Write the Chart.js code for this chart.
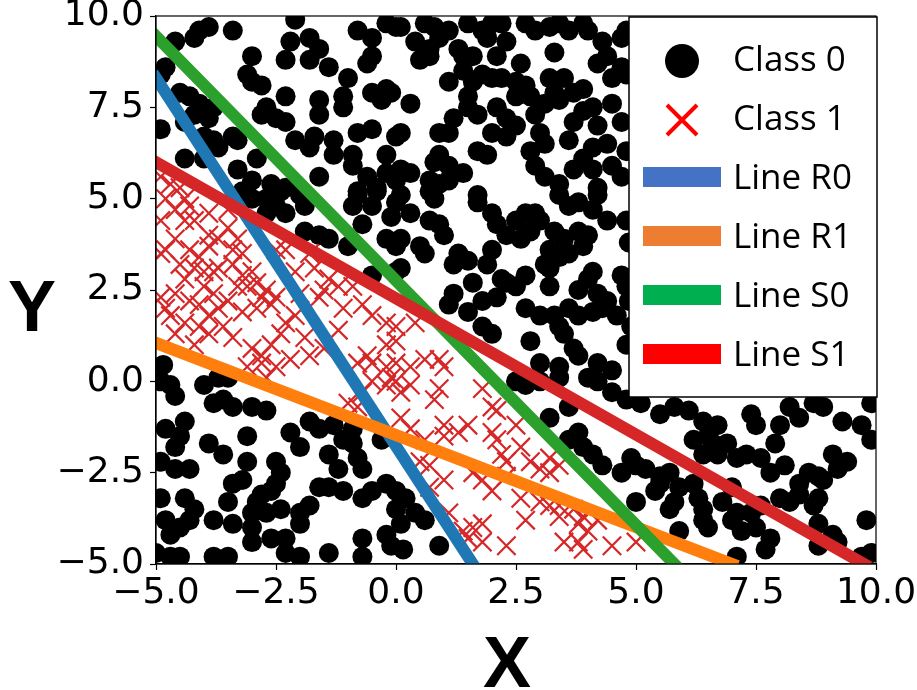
<!DOCTYPE html>
<html>
<head>
<meta charset="utf-8">
<title>Class regions</title>
<script src="https://cdn.jsdelivr.net/npm/chart.js@4"></script>
<style>
  html, body { margin: 0; padding: 0; background: #fff; }
  #wrap { width: 917px; height: 690px; }
</style>
</head>
<body>
<div id="wrap"><canvas id="chart"></canvas></div>
<script>
// values, [x, y]
const class0 = [
  [-4.1,9.6],[-3.9,9.7],[-4.2,9.4],[-3.4,9.6],[-4.6,9.3],[-2.1,9.9],[-1.8,9.4],[-2.2,9.3],[-1.6,9.1],[-1.8,8.8],
  [-2.3,8.8],[-1.4,8.6],[-0.8,9.6],[-0.5,9.4],[-0.2,9.8],[0.0,9.7],[-0.5,8.9],[-0.6,8.7],[-3.0,8.9],[-3.1,8.4],
  [-3.0,8.2],[-2.8,8.1],[-1.0,8.3],[-4.8,8.6],[-4.9,8.4],[-2.3,7.8],[-1.6,7.7],[-1.6,7.3],[-1.1,7.8],[-1.1,7.5],
  [-0.5,7.9],[-0.2,8.0],[-0.3,7.7],[-2.7,7.5],[-2.8,7.3],[-2.5,7.2],[-2.3,7.1],[-4.5,7.9],[-4.3,7.8],[-4.1,7.6],
  [-4.2,7.3],[-3.9,7.2],[-3.8,7.5],[-4.9,6.9],[-3.8,6.6],[-3.7,6.4],[-3.4,6.7],[-3.3,6.6],[-4.4,6.1],[-4.0,6.1],
  [-2.1,6.6],[-1.8,6.4],[-1.7,6.7],[-1.3,6.6],[-1.3,6.2],[-0.8,6.8],[-0.5,6.9],[-0.9,6.2],[-0.9,5.9],[-0.2,6.2],
  [0.0,6.7],[-2.9,6.1],[-3.3,5.8],[-3.0,5.5],[-2.6,5.4],[-2.3,5.3],[-1.6,5.6],[-0.6,5.6],[-0.2,5.7],[-0.8,5.2],
  [-0.4,5.3],[0.0,5.5],
  [0.1,9.7],[0.4,9.3],[0.5,8.8],[0.7,8.9],[0.8,9.7],[0.9,9.4],[0.7,9.1],[1.5,9.8],[1.8,9.6],[2.0,9.8],
  [2.2,9.8],[1.9,9.4],[2.3,9.3],[2.1,8.9],[2.7,9.8],[3.4,9.8],[3.6,9.6],[3.9,9.8],[4.0,9.6],[3.3,9.0],
  [4.3,9.3],[4.4,8.9],[4.7,9.4],[4.8,9.6],[1.4,8.9],[1.6,8.9],[1.4,8.5],[1.8,8.4],[2.0,8.3],[2.2,8.3],
  [1.6,8.2],[2.5,8.2],[2.7,8.1],[2.5,7.8],[2.8,7.8],[3.2,8.3],[3.5,8.3],[3.3,7.9],[3.7,7.9],[3.9,8.0],
  [3.1,7.6],[3.4,7.7],[4.5,8.3],[4.7,8.6],[4.8,8.4],[-0.1,7.9],[0.3,7.6],[1.5,7.8],[1.5,7.5],[1.7,7.3],
  [2.1,7.5],[2.3,7.2],[2.5,7.0],[2.3,6.7],[4.1,7.5],[3.7,7.1],[4.2,7.0],[4.7,7.1],[1.2,7.2],[0.1,6.8],
  [0.9,6.8],[1.1,6.8],[3.0,6.8],[3.1,6.5],[2.8,6.3],[2.9,5.9],[1.7,6.3],[1.9,6.2],[0.9,6.2],[0.8,6.0],
  [1.1,5.9],[0.1,5.8],[0.3,5.7],[1.4,5.7],[0.7,5.5],[0.9,5.4],[1.1,5.5],[4.1,6.4],[3.9,6.1],[3.7,5.8],
  [4.1,5.8],[4.5,5.9],[4.8,6.3],[4.7,5.6],[3.1,5.6],[3.4,5.4],[4.2,5.3],[0.1,5.1],[1.7,5.1],[4.85,3.8],
  [4.85,2.2],
  [-3.2,5.2],[-3.0,5.0],[-2.7,5.0],[-2.4,5.2],[-2.3,4.6],[-2.7,4.6],[-1.9,4.8],[-1.9,4.1],[-1.6,4.0],[-1.4,3.9],
  [-1.0,3.7],[-0.8,5.1],[-0.4,5.2],[-0.9,4.8],[-0.5,4.8],[-0.1,4.5],[-0.7,4.3],[-0.2,3.9],[0.0,3.7],[0.0,3.0],
  [-0.5,2.9],
  [0.0,4.9],[0.7,5.2],[0.8,5.0],[1.7,4.9],[0.3,4.6],[0.7,4.4],[0.9,4.3],[1.0,4.0],[0.1,3.9],[0.5,3.7],
  [0.6,3.5],[0.1,3.1],[2.0,4.6],[2.1,4.3],[2.3,4.0],[2.5,4.4],[2.7,4.6],[2.9,4.6],[3.0,4.4],[2.6,3.9],
  [2.8,4.1],[3.4,5.1],[3.6,4.8],[3.8,4.9],[4.1,4.7],[4.2,5.1],[4.4,4.4],[4.8,4.4],[3.3,4.1],[3.5,3.9],
  [3.8,4.1],[4.0,4.0],[3.2,3.6],[3.6,3.5],[3.9,3.7],[3.4,3.4],[1.3,3.5],[1.2,3.2],[1.5,3.3],[1.9,3.2],
  [2.0,3.6],[2.2,2.8],[2.3,2.7],[2.7,2.9],[2.5,2.6],[3.1,3.2],[3.2,3.1],[3.2,2.6],[3.8,2.5],[4.0,2.8],
  [4.1,3.0],[4.2,2.4],[4.4,2.2],[4.7,2.9],[4.8,2.6],[1.6,2.7],[1.2,2.4],[1.1,2.1],[1.5,1.9],[1.8,2.2],
  [2.1,2.3],[2.7,2.0],[3.0,1.8],[3.3,1.8],[3.6,2.0],[3.8,1.8],[4.1,1.9],[4.3,2.0],[4.6,1.8],[1.8,1.5],
  [2.0,1.3],[2.8,1.1],[3.4,1.5],[3.5,1.3],[3.7,0.9],[3.8,0.7],[4.2,0.5],[4.5,0.3],[4.8,1.0],[4.9,1.5],
  [3.0,0.5],[3.4,0.4],
  [-4.85,0.45],[-4.9,0.0],[-4.7,-0.1],[-4.0,-0.1],[-3.7,0.1],[-3.5,0.1],[-4.6,-0.4],[-3.8,-0.6],[-3.6,-0.5],[-3.4,-0.7],
  [-3.0,-0.7],[-2.7,-0.8],[-4.8,-1.3],[-4.4,-1.1],[-4.5,-1.5],[-4.6,-1.8],[-3.9,-1.7],[-3.6,-2.0],[-3.1,-1.5],[-2.2,-1.4],
  [-1.8,-1.1],[-1.6,-1.3],[-2.0,-1.8],[-1.3,-1.2],[-0.9,-1.3],[-1.1,-1.6],[-0.9,-1.7],[-0.3,-1.6],[-4.9,-2.2],[-4.6,-2.4],
  [-4.3,-2.4],[-3.1,-2.2],[-2.5,-2.2],[-2.4,-2.5],[-1.4,-2.0],[-1.2,-2.4],[-0.8,-2.1],[-0.7,-2.4],[-3.4,-2.8],[-3.2,-2.7],
  [-2.8,-3.1],[-2.9,-3.3],[-2.5,-2.8],[-2.6,-3.0],[-4.9,-3.2],[-4.4,-3.2],[-4.2,-3.5],[-3.5,-3.3],[-3.0,-3.6],[-2.7,-3.6],
  [-2.4,-3.5],[-2.0,-3.6],[-2.0,-3.9],[-1.8,-3.4],[-1.6,-2.9],[-1.4,-2.9],[-1.1,-3.0],[-0.7,-3.2],[-0.5,-3.0],[-0.2,-2.8],
  [0.0,-3.0],[-4.8,-3.8],[-4.5,-4.0],[-4.3,-3.8],[-3.8,-3.8],[-3.4,-3.9],[-4.7,-4.2],[-3.0,-4.0],[-3.0,-4.4],[-2.6,-4.3],
  [-2.3,-4.3],[-2.3,-4.7],[-2.0,-4.8],[-1.4,-4.7],[-0.7,-4.3],[-0.7,-4.8],[-5.0,-4.7],[-4.7,-4.8],[-4.5,-4.8],[-3.8,-4.8],
  [-3.5,-4.8],[-0.2,-4.2],[-0.1,-4.5],[0.0,-3.5],[0.1,-3.9],[0.2,-3.2],[0.4,-3.6],[0.6,-3.8],[0.15,-4.6],[0.9,-4.5],
  [2.5,0.0],[2.7,-0.1],[3.0,0.0],[3.4,0.1],[3.2,-1.0],[3.6,-0.7],[3.8,-1.4],[3.9,-1.8],[4.1,-2.0],[3.6,-1.6],
  [4.3,-2.3],[4.7,-2.5],[4.9,-2.1],[5.0,-2.3],[5.0,-3.3],[4.5,-0.3],[4.8,-0.5],[4.2,0.0],[4.0,0.1],
  [5.1,-0.6],[5.5,-0.9],[5.8,-0.7],[6.1,-0.8],[6.4,-1.1],[6.7,-1.2],[6.2,-1.6],[6.5,-1.5],[6.6,-1.7],[6.9,-1.7],
  [6.4,-2.0],[6.7,-2.0],[7.4,-0.9],[7.5,-1.2],[8.0,-1.2],[7.9,-1.7],[8.2,-0.7],[8.4,-1.0],[8.7,-0.6],[8.9,-0.7],
  [9.3,-1.1],[9.7,-1.2],[9.9,-1.6],[9.9,-0.6],[7.1,-2.1],[7.3,-2.0],[7.6,-2.1],[8.1,-2.3],[7.8,-2.5],[8.6,-2.5],
  [8.8,-2.6],[8.9,-2.7],[9.2,-2.4],[9.1,-2.0],[9.4,-2.2],[8.4,-2.8],[5.2,-2.4],[5.5,-2.6],[5.7,-2.5],[5.4,-3.0],
  [5.5,-2.8],[5.9,-2.9],[6.2,-2.8],[5.8,-3.3],[5.7,-3.5],[6.3,-3.2],[6.4,-3.5],[6.8,-3.3],[7.0,-2.9],[7.1,-3.6],
  [7.4,-3.6],[7.6,-3.4],[6.4,-3.8],[6.5,-4.0],[7.0,-3.8],[7.2,-4.1],[7.5,-4.0],[7.8,-4.3],[7.7,-4.6],[8.0,-3.2],
  [8.2,-3.3],[8.4,-3.1],[8.7,-3.4],[8.8,-3.2],[8.8,-3.9],[9.1,-4.2],[8.8,-4.5],[9.2,-4.4],[9.8,-3.8],[9.9,-4.7],
  [9.7,-4.8],[5.9,-4.1],[7.1,-4.8],
  [0.6,9.8],[1.1,9.6],[2.9,9.6],[3.2,9.7],[1.3,9.1],[2.6,8.7],[4.2,8.7],[1.1,8.2],[3.9,7.4],[4.5,7.6],
  [2.9,7.3],[2.0,6.8],[4.4,6.5],[3.6,6.6],[-4.4,7.1],[-4.0,6.7],[-2.5,4.8],[-2.0,5.1]
];

const class1 = [
  [-4.8,5.0],[-4.4,5.0],[-4.3,4.8],[-3.5,4.7],[-4.9,4.4],[-4.4,4.4],[-3.9,4.0],[-3.7,3.9],[-3.5,4.2],[-3.3,3.9],
  [-4.9,3.5],[-4.8,3.6],[-4.3,3.6],[-4.1,3.4],[-3.9,3.7],[-3.4,3.6],[-3.2,3.5],[-2.5,3.6],[-2.3,3.6],[-1.8,3.5],
  [-4.5,3.2],[-4.2,3.1],[-3.8,3.0],[-3.7,3.1],[-3.4,3.2],[-3.2,2.9],[-3.0,3.0],[-2.1,3.0],[-1.7,3.1],[-1.4,2.8],
  [-4.9,2.3],[-4.6,2.4],[-4.3,2.2],[-4.0,2.6],[-3.8,2.4],[-3.3,2.6],[-3.1,2.6],[-2.9,2.7],[-2.8,2.3],[-2.7,2.5],
  [-2.5,2.3],[-1.6,2.3],[-1.5,2.5],[-1.2,2.6],[-0.9,2.6],[-0.7,2.1],[-1.1,2.0],[-4.8,2.0],[-4.7,1.8],[-4.1,2.1],
  [-3.9,1.8],[-3.7,2.0],[-3.6,1.5],[-4.1,1.5],[-2.9,2.0],[-2.6,2.1],[-2.3,1.6],[-2.1,1.8],[-2.4,1.3],[-0.5,1.8],
  [-0.2,1.6],[0.0,1.5],[-4.6,1.3],[-4.2,1.0],[-3.9,1.3],[-3.0,0.9],[-2.8,0.7],[-2.6,1.0],[-1.8,0.7],[-1.5,0.9],
  [-0.6,0.7],[-0.2,1.0],[0.0,1.1],[-3.1,0.4],[-2.8,0.5],[-2.5,0.4],[-0.8,0.5],[-0.5,0.5],[-0.2,0.4],[0.0,0.5],
  [-4.9,5.6],[-4.7,5.4],[-4.5,5.3],[-4.6,4.7],[-4.2,4.4],[-3.9,4.6],[-4.6,3.9],[-4.0,3.0],[-3.5,2.2],[-4.4,2.8],
  [-3.2,1.9],[-3.4,1.2],[-4.4,1.6],[-2.0,2.4],[-1.9,1.2],[-1.2,1.4],[-2.2,0.6],
  [0.4,1.6],[0.3,0.4],[0.6,0.6],[0.9,0.6],[1.0,0.4],
  [-1.0,-0.6],[-0.8,-0.7],[-0.5,0.0],[-0.2,-0.1],[-0.7,-0.3],[-0.1,0.1],[-2.7,0.1],
  [0.0,0.0],[0.1,-0.3],[0.3,-0.1],[0.9,-0.2],[0.8,-0.5],[1.8,-0.2],[2.0,-0.7],[2.1,-0.8],[1.0,-1.2],[1.0,-1.5],
  [1.3,-1.4],[1.5,-1.2],[0.1,-1.0],[0.3,-1.3],[0.6,-1.6],[2.0,-1.4],[2.1,-1.6],[2.5,-1.2],[2.6,-1.8],[2.2,-2.0],
  [2.3,-2.2],[2.8,-2.2],[3.2,-2.1],[3.4,-2.3],[0.5,-2.2],[0.7,-2.3],[1.0,-2.7],[1.6,-2.5],[1.8,-2.7],[2.0,-3.0],
  [2.3,-2.6],[2.6,-3.2],[3.0,-2.4],[3.2,-2.5],[3.0,-3.3],[3.2,-3.4],[3.4,-3.4],[3.4,-3.7],[3.7,-3.5],[3.8,-3.9],
  [4.0,-4.1],[4.2,-3.8],[3.9,-3.7],[1.4,-4.1],[1.6,-4.0],[1.5,-4.3],[1.8,-3.9],[1.8,-4.4],[2.3,-4.5],[2.7,-3.8],
  [3.5,-4.4],[3.8,-4.4],[3.9,-4.6],[4.5,-4.5],[5.0,-4.4],[0.7,-2.9],[1.1,-3.6]
];

// boundary lines, end points where they meet the frame
const lineR0 = [[-5, 8.3], [1.6, -5]];
const lineR1 = [[-5, 1.05], [7.0, -5]];
const lineS0 = [[-5, 9.45], [5.8, -5]];
const lineS1 = [[-5, 6.0], [9.75, -5]];

const tickValues = [-5, -2.5, 0, 2.5, 5, 7.5, 10];

const toPts = (arr) => arr.map(([x, y]) => ({ x: x, y: y }));

const fmtTick = (v) => (v < 0 ? "\u2212" : "") + Math.abs(v).toFixed(1);

const legendRows = [
  { label: "Class 0", kind: "dot", color: "#000000" },
  { label: "Class 1", kind: "cross", color: "#ff0000" },
  { label: "Line R0", kind: "bar", color: "#4472c4" },
  { label: "Line R1", kind: "bar", color: "#ed7d31" },
  { label: "Line S0", kind: "bar", color: "#00b050" },
  { label: "Line S1", kind: "bar", color: "#ff0000" },
];

const framePlugin = {
  id: "frameAndLegend",
  afterDraw(chart) {
    const { ctx, chartArea: a } = chart;
    ctx.save();

    // spines
    ctx.strokeStyle = "#000";
    ctx.lineWidth = 1.2;
    ctx.strokeRect(a.left, a.top, a.right - a.left, a.bottom - a.top);

    // axis titles
    ctx.fillStyle = "#000";
    ctx.font = 'bold 72px "Liberation Sans"';
    ctx.textAlign = "center";
    ctx.textBaseline = "alphabetic";
    ctx.fillText("Y", a.left - 124, a.top + 315);
    ctx.fillText("X", (a.left + a.right) / 2 - 9, a.bottom + 123);

    // legend box
    const bx = a.right - 247, by = a.top + 1, bw = 248, bh = 380;
    ctx.fillStyle = "#fff";
    ctx.fillRect(bx, by, bw, bh);
    ctx.strokeStyle = "#000";
    ctx.lineWidth = 1.5;
    ctx.strokeRect(bx, by, bw, bh);

    ctx.font = '35px "Open Sans"';
    ctx.textAlign = "left";
    legendRows.forEach((row, i) => {
      const cy = by + 42 + i * 59;
      const mx = bx + 53;
      if (row.kind === "dot") {
        ctx.fillStyle = row.color;
        ctx.beginPath();
        ctx.arc(mx, cy + 2, 17, 0, Math.PI * 2);
        ctx.fill();
      } else if (row.kind === "cross") {
        ctx.strokeStyle = row.color;
        ctx.lineWidth = 4;
        ctx.beginPath();
        ctx.moveTo(mx - 15, cy - 13);
        ctx.lineTo(mx + 15, cy + 17);
        ctx.moveTo(mx + 15, cy - 13);
        ctx.lineTo(mx - 15, cy + 17);
        ctx.stroke();
      } else {
        ctx.fillStyle = row.color;
        ctx.fillRect(bx + 14, cy - 10, 78, 20);
      }
      ctx.fillStyle = "#000";
      ctx.fillText(row.label, bx + 104, cy + 12);
    });

    ctx.restore();
  },
};

const axisCommon = {
  type: "linear",
  min: -5,
  max: 10,
  afterBuildTicks: (s) => { s.ticks = tickValues.map((v) => ({ value: v })); },
  border: { display: true, color: "#000", width: 1.2 },
  grid: { drawOnChartArea: false, drawTicks: true, tickLength: 6, color: "#000", tickWidth: 1.2 },
  ticks: {
    color: "#000",
    font: { family: '"DejaVu Sans"', size: 36 },
    maxRotation: 0,
    autoSkip: false,
    callback: (v) => fmtTick(v),
  },
};

new Chart(document.getElementById("chart"), {
  type: "scatter",
  data: {
    datasets: [
      { type: "line", label: "Line S1", data: toPts(lineS1), borderColor: "#d62728", borderWidth: 12,
        pointRadius: 0, borderCapStyle: "square", fill: false, order: 0, clip: 0 },
      { type: "line", label: "Line S0", data: toPts(lineS0), borderColor: "#2ca02c", borderWidth: 12,
        pointRadius: 0, borderCapStyle: "square", fill: false, order: 1, clip: 0 },
      { type: "line", label: "Line R1", data: toPts(lineR1), borderColor: "#ff7f0e", borderWidth: 12,
        pointRadius: 0, borderCapStyle: "square", fill: false, order: 2, clip: 0 },
      { type: "line", label: "Line R0", data: toPts(lineR0), borderColor: "#1f77b4", borderWidth: 12,
        pointRadius: 0, borderCapStyle: "square", fill: false, order: 3, clip: 0 },
      { label: "Class 1", data: toPts(class1), pointStyle: "crossRot", pointRadius: 13,
        pointBorderWidth: 2.2, pointBorderColor: "#d62728", pointBackgroundColor: "#d62728",
        borderColor: "#d62728", order: 4, clip: 0 },
      { label: "Class 0", data: toPts(class0), pointStyle: "circle", pointRadius: 10,
        pointBorderWidth: 0, pointBackgroundColor: "#000", backgroundColor: "#000", order: 5, clip: 0 },
    ],
  },
  options: {
    responsive: true,
    maintainAspectRatio: false,
    animation: false,
    events: [],
    layout: { padding: { left: 0, top: 16, right: 41, bottom: 0 } },
    plugins: { legend: { display: false }, tooltip: { enabled: false }, title: { display: false } },
    scales: {
      x: Object.assign({}, axisCommon, {
        position: "bottom",
        ticks: Object.assign({}, axisCommon.ticks, { padding: 2 }),
        afterFit: (s) => { s.height = 126; s.paddingLeft = 0; s.paddingRight = 0; },
      }),
      y: Object.assign({}, axisCommon, {
        position: "left",
        ticks: Object.assign({}, axisCommon.ticks, { padding: 6 }),
        afterFit: (s) => { s.width = 156; s.paddingTop = 0; s.paddingBottom = 0; },
      }),
    },
  },
  plugins: [framePlugin],
});
</script>
</body>
</html>
